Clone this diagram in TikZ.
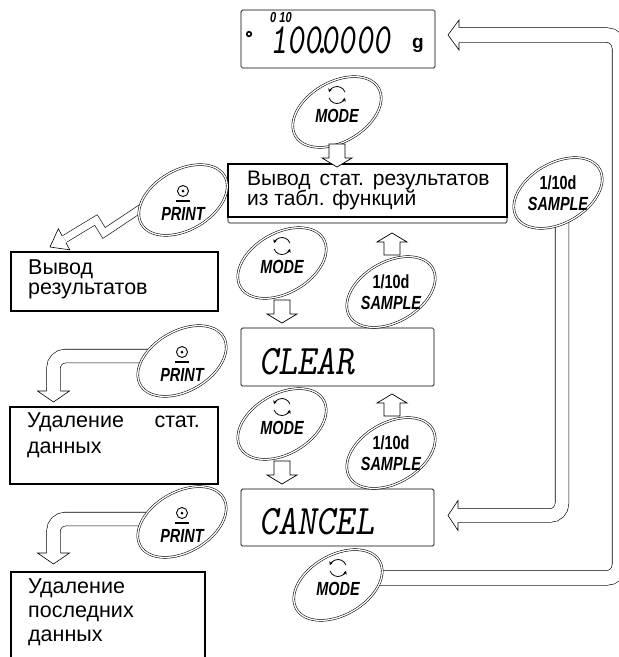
\documentclass[tikz,border=0pt]{standalone}
\usepackage{fontspec}
\setmainfont{Liberation Sans}
\newfontfamily\keyfont[FakeStretch=0.76]{Liberation Sans}
\usepackage{graphicx}
\usepackage{tikz}
\usetikzlibrary{arrows.meta, shapes.geometric, backgrounds}

\begin{document}
\begin{tikzpicture}[x=1pt, y=-1pt,
  lcd/.style={draw, rounded corners=1.5, line width=.7, inner sep=0},
  box/.style={draw, fill=white, line width=1.2, inner sep=0},
  btn/.style={ellipse, draw, double, double distance=1.3, line width=.55, fill=white, minimum width=96, minimum height=60, rotate=30, inner sep=0},
  keylbl/.style={font=\keyfont\bfseries\itshape\fontsize{19}{20}\selectfont, inner sep=0},
  keyup/.style={font=\keyfont\bfseries\fontsize{19}{20}\selectfont, inner sep=0},
  txt/.style={font=\fontsize{21.5}{24}\selectfont, inner sep=0, anchor=base west},
  seg/.style={font=\ttfamily\slshape\fontsize{42}{42}\selectfont, inner sep=0, anchor=base west},
  chan/.style={double, double distance=13, line width=.6},
  pics/head/.style n args={3}{code={
    \fill[white] (0,0) -- (-#3,#2) -- (-#3,-#2) -- cycle;
    \draw[line width=.6, line join=miter] (-#3,#1) -- (-#3,#2) -- (0,0) -- (-#3,-#2) -- (-#3,-#1);}},
  pics/blk/.style={code={
    \draw[fill=white, line width=.7, line join=miter] (0,0) -- (-9,15) -- (-9,8) -- (-#1,8) -- (-#1,-8) -- (-9,-8) -- (-9,-15) -- cycle;}},
  pics/cyc/.style={code={
    \draw[line width=.8, -{Stealth[length=3.5pt, width=4pt]}] (-20:8.5) arc[start angle=-20, end angle=-160, radius=8.5];
    \draw[line width=.8, -{Stealth[length=3.5pt, width=4pt]}] (160:8.5) arc[start angle=160, end angle=20, radius=8.5];}},
  pics/prt/.style={code={
    \draw[line width=.9] (0,0) circle[radius=5.5];
    \fill (0,0) circle[radius=1.5];
    \draw[line width=1.4] (-7,10) -- (7,10);}}
]
\useasboundingbox (0,0) rectangle (619,657);

% displays and boxes
\node[lcd, minimum width=279, minimum height=57] (lcd1) at (367.5,194.5) {};
\node[lcd, minimum width=194, minimum height=58] (lcd0) at (338,39) {};
\node[lcd, minimum width=193, minimum height=58] (lcd2) at (337.5,357) {};
\node[lcd, minimum width=193, minimum height=57] (lcd3) at (337.5,517.5) {};
\node[box, minimum width=279, minimum height=53] (stat) at (367.5,190.5) {};
\node[box, minimum width=207, minimum height=59] (res) at (114.5,281.5) {};
\node[box, minimum width=208, minimum height=77] (del) at (114,445.5) {};
\node[box, minimum width=194, minimum height=110] (last) at (108,627) {};

% keys
\foreach \n/\x/\y in {mode0/337/112, mode1/282/263, mode2/282/424, mode3/338/585}{
  \node[btn] (\n) at (\x,\y) {};
  \node[keylbl] (\n-t) at (\x,\y+3.5) {MODE};
  \pic at (\x,\y-17) {cyc};
}
\foreach \n/\x/\y in {print1/183/200, print2/182/361, print3/182/522}{
  \node[btn] (\n) at (\x,\y) {};
  \node[keylbl] (\n-t) at (\x,\y+13.5) {PRINT};
  \pic at (\x,\y-9) {prt};
}
\foreach \n/\x/\y in {sample0/558/193, sample1/391/292, sample2/391/453}{
  \node[btn] (\n) at (\x,\y) {};
  \node[keyup] (\n-a) at (\x,\y-10) {1/10d};
  \node[keylbl] (\n-b) at (\x,\y+10.5) {SAMPLE};
}

% hollow connectors
\coordinate (z0) at (152,201);
\coordinate (z1) at (104,233);
\coordinate (z2) at (96,220);
\coordinate (z3) at (64.5,239);
\coordinate (b2) at (53.5,356);
\coordinate (h2) at (53.5,391);
\coordinate (b3) at (53.5,519);
\coordinate (h3) at (53.5,553);
\coordinate (c1) at (562,515.5);
\coordinate (h1) at (458,515.5);
\coordinate (c2) at (619.5,578);
\coordinate (c3) at (619.5,35);
\coordinate (h4) at (459,35);
\begin{pgfonlayer}{background}
\draw[chan, double distance=7, line join=miter] (z0) -- (z1) -- (z2) -- (z3);
\draw[chan, rounded corners=12] (print2.center |- b2) -- (b2) -- (h2);
\draw[chan, rounded corners=12] (print3.center |- b3) -- (b3) -- (h3);
\draw[chan, rounded corners=12] (sample0.center -| c1) -- (c1) -- (h1);
\draw[chan, double distance=14, rounded corners=13] (mode3.center |- c2) -- (c2) -- (c3) -- (h4);
\end{pgfonlayer}
\pic[rotate=208.6] at (50,247) {head={3.8}{12}{16}};
\pic[rotate=-90] at (53.5,402) {head={6.8}{16}{11}};
\pic[rotate=-90] at (53.5,564) {head={6.8}{16}{11}};
\pic[rotate=180] at (448,515.5) {head={6.8}{15}{10}};
\pic[rotate=180] at (448,35) {head={7.3}{15}{11}};

% block arrows
\pic[rotate=-90] at (337,167) {blk=23};
\pic[rotate=-90] at (282,323) {blk=23};
\pic[rotate=-90] at (282,484) {blk=23};
\pic[rotate=90] at (392,233) {blk=22};
\pic[rotate=90] at (392,394) {blk=22};

% display texts
\draw[line width=1.6] (249,34) circle[radius=2.3];
\node[seg, font=\ttfamily\slshape\fontsize{43}{43}\selectfont] (lcd0-t) at (270,53) {\makebox[0pt][l]{\raisebox{31pt}{\keyfont\bfseries\itshape\fontsize{14.5}{15}\selectfont 0 10}}\scalebox{.76}[1]{100\makebox[0pt]{.}0000}};
\node[anchor=base west, inner sep=0, font=\bfseries\fontsize{19}{20}\selectfont] (lcd0-g) at (412,48.5) {g};
\node[seg] (lcd2-t) at (259,374) {\scalebox{.87}[1]{CLEAR}};
\node[seg] (lcd3-t) at (259,534) {\scalebox{.87}[1]{CANCEL}};

% descriptions
\node[txt, font=\fontsize{21}{24}\selectfont] (stat-a) at (247,185) {Вывод\hspace{9pt}стат.\hspace{9pt}результатов};
\node[txt, font=\fontsize{21}{24}\selectfont] (stat-b) at (247,205.5) {из табл. функций};
\node[txt] (res-a) at (28,274) {Вывод};
\node[txt] (res-b) at (28,294) {результатов};
\node[txt] (del-a) at (27,427) {Удаление};
\node[txt, anchor=base east] (del-b) at (200,427) {стат.};
\node[txt] (del-c) at (27,453) {данных};
\node[txt] (last-a) at (28,593) {Удаление};
\node[txt] (last-b) at (28,617) {последних};
\node[txt] (last-c) at (28,641) {данных};

\end{tikzpicture}
\end{document}
